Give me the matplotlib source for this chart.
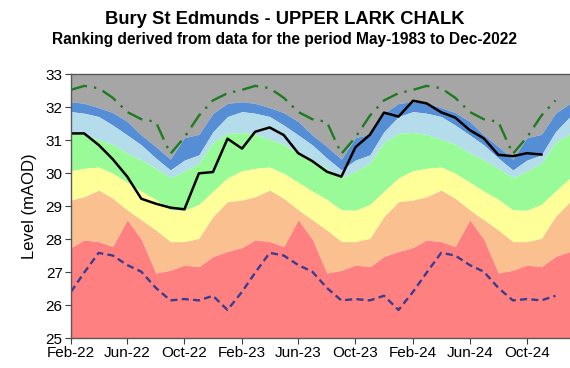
import numpy as np
import pandas as pd
import matplotlib
matplotlib.use("Agg")
import matplotlib.pyplot as plt
import matplotlib.dates as mdates

plt.rcParams['font.family'] = ['Liberation Sans', 'DejaVu Sans']

# calendar-month profiles, Feb .. Jan (ranking from the long-term record)
band_months = pd.date_range("2022-02-01", periods=36, freq="MS")
grey_bottom = [32.16, 32.11, 31.98, 31.83, 31.56, 31.15, 30.80, 30.42, 31.07, 31.17, 31.81, 32.11]
dblue_bottom = [31.86, 31.81, 31.71, 31.45, 31.15, 30.85, 30.45, 30.09, 30.39, 30.55, 31.25, 31.71]
lblue_bottom = [31.23, 31.17, 31.02, 30.87, 30.60, 30.40, 30.14, 29.86, 30.05, 30.30, 30.92, 31.20]
green_bottom = [30.07, 30.14, 30.18, 29.99, 29.72, 29.45, 29.20, 28.88, 28.87, 29.05, 29.45, 29.85]
yellow_bottom = [29.18, 29.28, 29.48, 29.23, 28.88, 28.58, 28.27, 27.92, 27.92, 28.02, 28.68, 29.13]
orange_bottom = [27.74, 27.97, 27.92, 27.77, 28.58, 27.99, 26.97, 27.05, 27.21, 27.16, 27.47, 27.62]

max_level = [32.52, 32.64, 32.57, 32.28, 31.85, 31.63, 31.55, 30.58, 31.08, 31.74, 32.20, 32.42]
min_level = [26.40, 26.98, 27.58, 27.50, 27.21, 27.01, 26.52, 26.14, 26.18, 26.14, 26.28, 25.85]

# observed levels Feb-22 .. Nov-24
obs = [31.20, 31.20, 30.85, 30.42, 29.89, 29.22, 29.07, 28.95, 28.90, 29.99, 30.03, 31.04,
       30.74, 31.25, 31.38, 31.15, 30.60, 30.36, 30.04, 29.89, 30.78, 31.16, 31.83, 31.71,
       32.19, 32.11, 31.84, 31.68, 31.30, 31.05, 30.55, 30.51, 30.60, 30.56]

ymin, ymax = 25, 33


def tile(profile, n):
    return np.resize(np.array(profile), n)


n = len(band_months)
levels = [ymax, grey_bottom, dblue_bottom, lblue_bottom, green_bottom,
          yellow_bottom, orange_bottom, ymin]
colours = ["#a6a6a6", "#558ed5", "#b4dcea", "#98fb98", "#ffff99", "#fac090", "#ff8080"]

fig = plt.figure(figsize=(5.7, 3.68), dpi=100)
ax = fig.add_axes([0.1246, 0.0815, 0.8754, 0.7174])

for i, c in enumerate(colours):
    top = levels[i] if np.isscalar(levels[i]) else tile(levels[i], n)
    bot = levels[i + 1] if np.isscalar(levels[i + 1]) else tile(levels[i + 1], n)
    ax.fill_between(band_months, bot, top, color=c, lw=0)

line_months = band_months[:35]
ax.plot(line_months, tile(max_level, 35), color="#1e7b1e", lw=1.7,
        linestyle=(0, (7, 3, 1, 3)))
ax.plot(line_months, tile(min_level, 35), color="#3c3c8c", lw=1.7,
        linestyle=(0, (3, 1.8)))
ax.plot(band_months[:len(obs)], obs, color="black", lw=1.8)

ax.set_xlim(band_months[0], band_months[-1])
ax.set_ylim(ymin, ymax)
ax.set_yticks(range(25, 34))
ax.xaxis.set_major_locator(mdates.MonthLocator(bymonth=[2, 6, 10]))
ax.xaxis.set_major_formatter(mdates.DateFormatter("%b-%y"))
ax.tick_params(labelsize=11, direction="out", length=4, color="#404040", pad=2)
for side in ["left", "bottom", "top"]:
    ax.spines[side].set_color("#595959")
    ax.spines[side].set_linewidth(1)
ax.spines["right"].set_visible(False)

ax.set_ylabel("Level (mAOD)", fontsize=12, labelpad=6)

fig.text(0.5, 0.946, "Bury St Edmunds - UPPER LARK CHALK", ha="center",
         va="center", fontsize=13.2, fontweight="bold")
fig.text(0.5, 0.893, "Ranking derived from data for the period May-1983 to Dec-2022",
         ha="center", va="center", fontsize=11.2, fontweight="bold")

fig.savefig("out.png", dpi=100)
